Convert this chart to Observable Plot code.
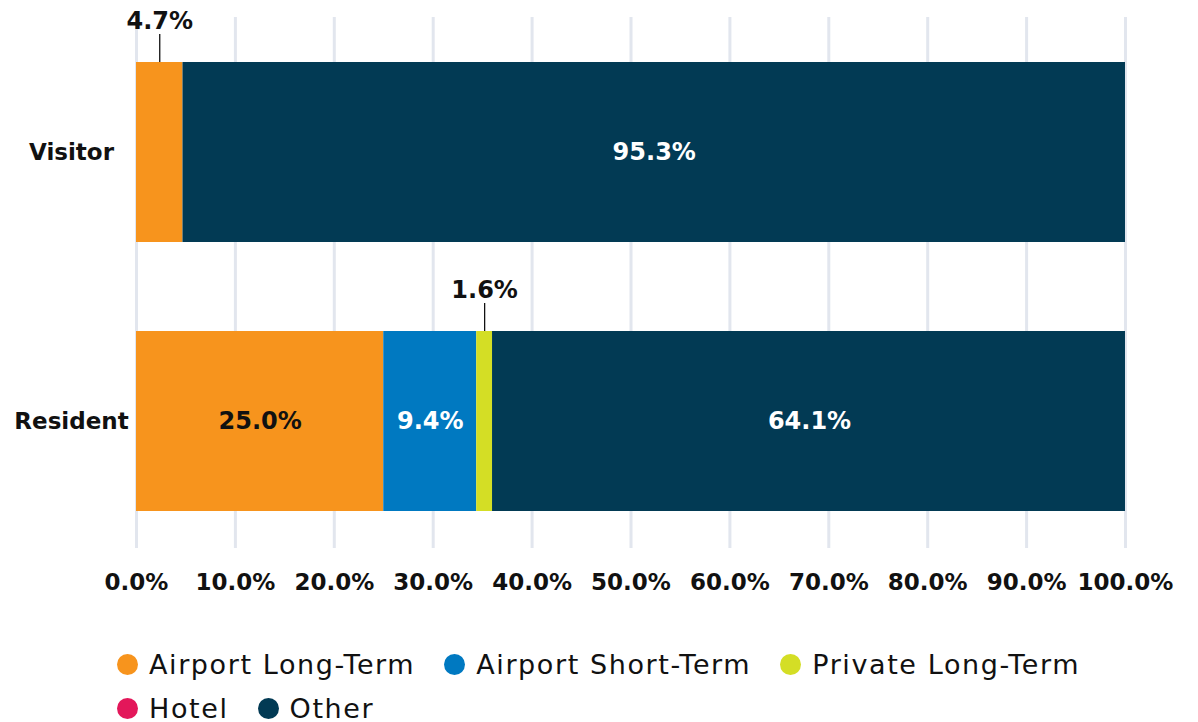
<!DOCTYPE html>
<html>
<head>
<meta charset="utf-8">
<script src="https://cdn.jsdelivr.net/npm/d3@7"></script>
<script src="https://cdn.jsdelivr.net/npm/@observablehq/plot@0.6"></script>
<style>
  body { margin: 0; background: #fff; font-family: "DejaVu Sans", sans-serif; }
  #legend { display: flex; flex-wrap: wrap; width: 1000px; padding: 32px 0 0 117px; column-gap: 29px; row-gap: 0; }
  .item { display: flex; align-items: center; height: 44px; font-size: 27px; letter-spacing: 1.6px; color: #111; }
  .sw { width: 21px; height: 21px; border-radius: 50%; margin-right: 11px; }
</style>
</head>
<body>
<div id="chart"></div>
<div id="legend"></div>
<script>
const groups = ["Visitor", "Resident"];
const seriesNames = ["Airport Long-Term", "Airport Short-Term", "Private Long-Term", "Hotel", "Other"];
const seriesColors = ["#F7941D", "#0079C1", "#D4DE25", "#E3175A", "#023A54"];
const visitorValues = [4.7, 0, 0, 0, 95.3];
const residentValues = [25.0, 9.4, 1.6, 0, 64.1];
const xTicks = [0, 10, 20, 30, 40, 50, 60, 70, 80, 90, 100];

const valuesByGroup = {Visitor: visitorValues, Resident: residentValues};
const data = groups.flatMap(g => seriesNames.map((s, i) => ({group: g, series: s, value: valuesByGroup[g][i]})));
const fmt = v => v.toFixed(1) + "%";
const stackOpts = {x: "value", y: "group", z: "series", order: seriesNames};
const labelStyle = {fontSize: 24, fontWeight: 700, style: "letter-spacing: 1px"};

const plot = Plot.plot({
  width: 1198,
  height: 610,
  marginLeft: 136,
  marginRight: 73,
  marginTop: 17,
  marginBottom: 62,
  style: {fontFamily: "'DejaVu Sans', sans-serif", background: "#fff"},
  x: {domain: [0, 100], clamp: true},
  y: {domain: groups, paddingInner: 0.3309, paddingOuter: 0.1524, align: 0.549},
  color: {domain: seriesNames, range: seriesColors},
  opacity: {domain: [0, 1], range: [0, 1]},
  marks: [
    Plot.gridX(xTicks, {stroke: "#e2e6ee", strokeWidth: 3, strokeOpacity: 1}),
    Plot.axisX({ticks: xTicks, tickSize: 0, tickPadding: 25, tickFormat: fmt, fontSize: 23, fontWeight: 700, fill: "#111", label: null}),
    Plot.axisY({tickSize: 0, tickPadding: 65, textAnchor: "middle", fontSize: 23, fontWeight: 700, fill: "#111", label: null}),
    Plot.barX(data, Plot.stackX({...stackOpts, fill: "series"})),
    Plot.text(data, Plot.stackX({...stackOpts, ...labelStyle,
      text: d => (d.value >= 5 && d.series === "Airport Long-Term") ? fmt(d.value) : "",
      fill: "#111"})),
    Plot.text(data, Plot.stackX({...stackOpts, ...labelStyle,
      text: d => (d.value >= 5 && d.series !== "Airport Long-Term") ? fmt(d.value) : "",
      fill: "#fff"})),
    Plot.tickX(data, Plot.stackX({...stackOpts,
      strokeOpacity: d => (d.value > 0 && d.value < 5) ? 1 : 0,
      stroke: "#111", strokeWidth: 1.3, insetTop: -28, insetBottom: 180})),
    Plot.text(data, Plot.stackX({...stackOpts, ...labelStyle,
      text: d => (d.value > 0 && d.value < 5) ? fmt(d.value) : "",
      dy: -131, fill: "#111"}))
  ]
});
document.getElementById("chart").appendChild(plot);

const legend = document.getElementById("legend");
seriesNames.forEach((s, i) => {
  const item = document.createElement("div");
  item.className = "item";
  const sw = document.createElement("span");
  sw.className = "sw";
  sw.style.background = seriesColors[i];
  item.appendChild(sw);
  item.appendChild(document.createTextNode(s));
  legend.appendChild(item);
});
</script>
</body>
</html>
